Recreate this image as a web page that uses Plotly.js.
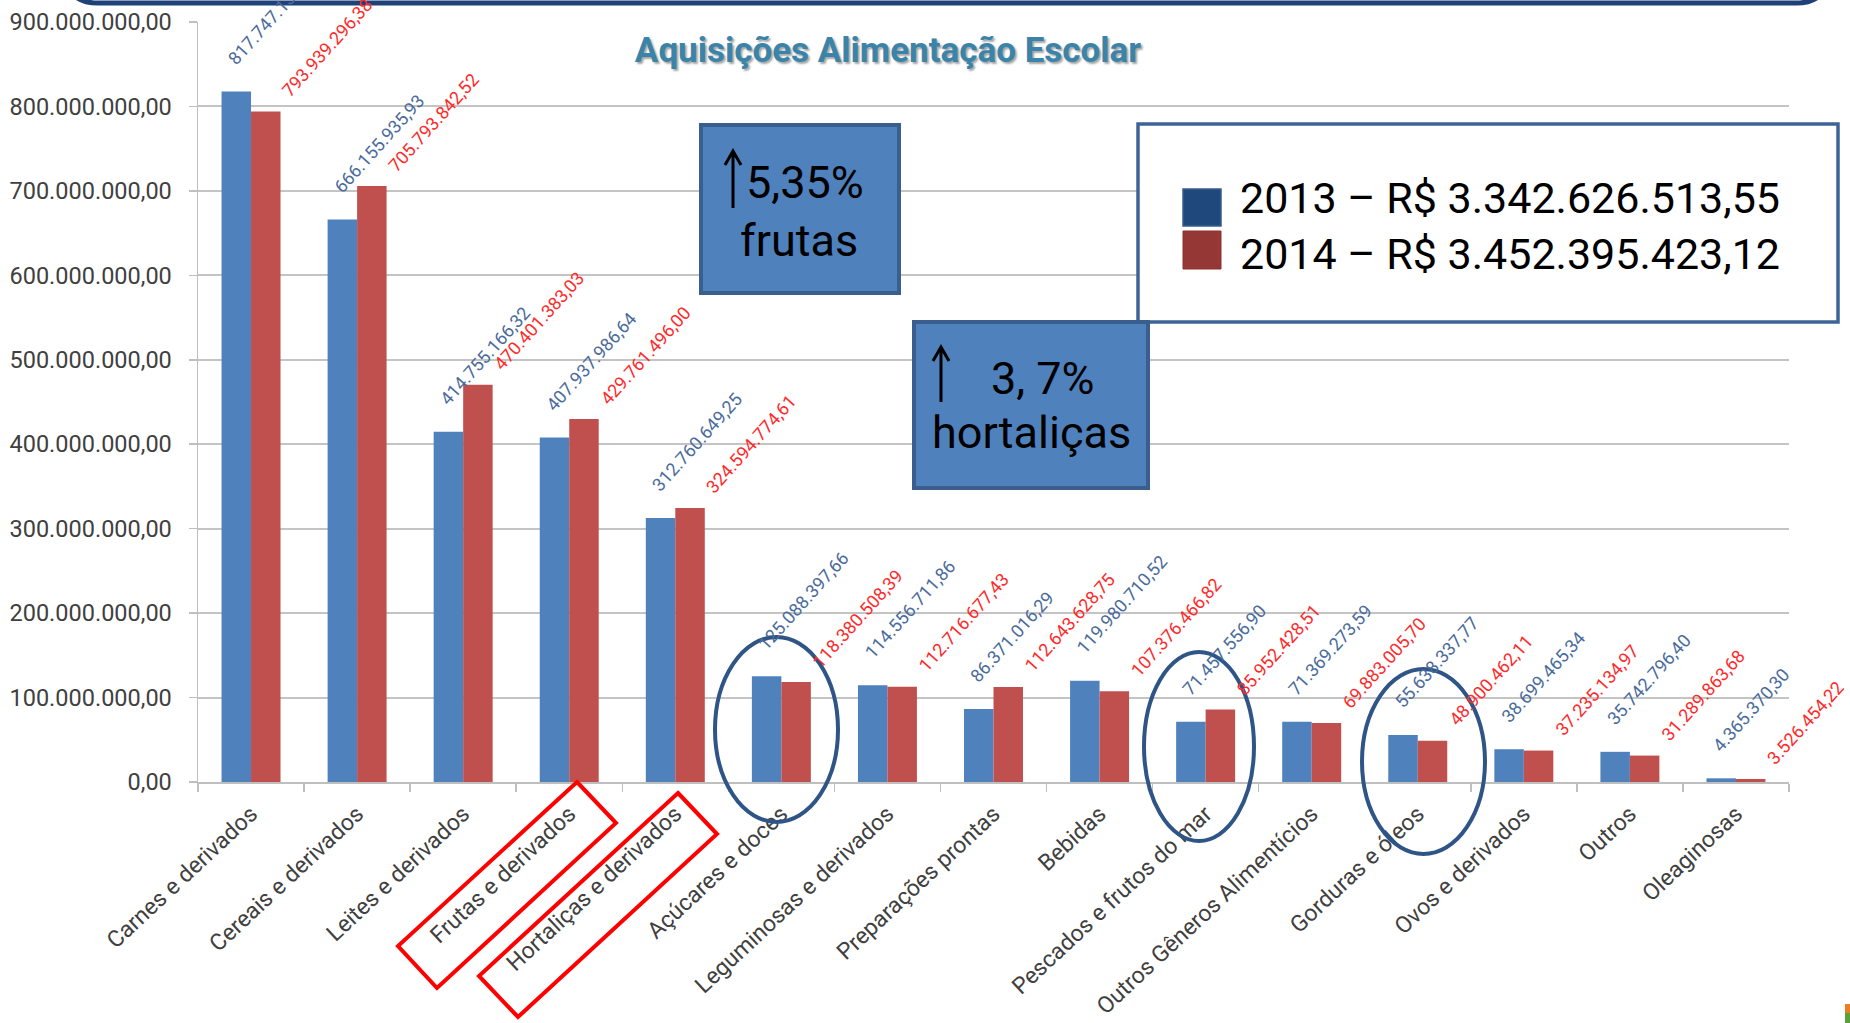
<!DOCTYPE html>
<html>
<head>
<meta charset="utf-8">
<script src="https://cdn.plot.ly/plotly-3.0.1.min.js"></script>
<style>
html,body{margin:0;padding:0;background:#ffffff;}
#chart{width:1850px;height:1023px;}
</style>
</head>
<body>
<div id="chart"></div>
<script>
// ---------------- DATA ----------------
const categories = [
  "Carnes e derivados", "Cereais e derivados", "Leites e derivados",
  "Frutas e derivados", "Hortaliças e derivados", "Açúcares e doces",
  "Leguminosas e derivados", "Preparações prontas", "Bebidas",
  "Pescados e frutos do mar", "Outros Gêneros Alimentícios",
  "Gorduras e óleos", "Ovos e derivados", "Outros", "Oleaginosas"
];
const values2013 = [
  817747138.78, 666155935.93, 414755166.32, 407937986.64, 312760649.25,
  125088397.66, 114556711.86, 86371016.29, 119980710.52, 71457556.90,
  71369273.59, 55638337.77, 38699465.34, 35742796.40, 4365370.30
];
const values2014 = [
  793939296.38, 705793842.52, 470401383.03, 429761496.00, 324594774.61,
  118380508.39, 112716677.43, 112643628.75, 107376466.82, 85952428.51,
  69883005.70, 48900462.11, 37235134.97, 31289863.68, 3526454.22
];
const seriesNames = ["2013", "2014"];
const legendTexts = ["2013 – R$ 3.342.626.513,55", "2014 – R$ 3.452.395.423,12"];
const titleText = "Aquisições Alimentação Escolar";
const calloutFrutas = ["5,35%", "frutas"];
const calloutHortalicas = ["3, 7%", "hortaliças"];

// ---------------- HELPERS ----------------
function fmtBR(v) {
  const parts = v.toFixed(2).split(".");
  const intPart = parts[0].replace(/\B(?=(\d{3})+(?!\d))/g, ".");
  return intPart + "," + parts[1];
}
// plot area in page pixels (used only to place decorations)
const PL = 198, PR = 1789, PT = 22, PB = 782;
const px = x => (x - PL) / (PR - PL);
const py = y => (PB - y) / (PB - PT);

const FONT = "Roboto, 'Liberation Sans', 'DejaVu Sans', sans-serif";
const BLUE = "#4f81bd", RED = "#c0504d";

// ---------------- TRACES ----------------
const traces = [
  {type: "bar", name: seriesNames[0], x: categories, y: values2013,
   marker: {color: BLUE}, showlegend: false, hoverinfo: "skip"},
  {type: "bar", name: seriesNames[1], x: categories, y: values2014,
   marker: {color: RED}, showlegend: false, hoverinfo: "skip"}
];

// ---------------- ANNOTATIONS ----------------
const annotations = [];
categories.forEach((c, i) => {
  annotations.push({
    x: c, y: values2013[i], xref: "x", yref: "y", showarrow: false,
    text: fmtBR(values2013[i]), textangle: -48,
    xanchor: "left", yanchor: "bottom", xshift: -30, yshift: 20,
    font: {family: FONT, size: 18, color: "#4a6b9b"}
  });
  annotations.push({
    x: c, y: values2014[i], xref: "x", yref: "y", showarrow: false,
    text: fmtBR(values2014[i]), textangle: -48,
    xanchor: "left", yanchor: "bottom", xshift: 24, yshift: 8,
    font: {family: FONT, size: 18, color: "#ff2a2a"}
  });
});

function paperText(text, x, y, size, extra) {
  return Object.assign({
    text: text, x: px(x), y: py(y), xref: "paper", yref: "paper",
    showarrow: false, xanchor: "center", yanchor: "middle",
    font: {family: FONT, size: size, color: "#000000"}
  }, extra || {});
}
// legend texts
annotations.push(paperText(legendTexts[0], 1238, 198, 43, {xanchor: "left"}));
annotations.push(paperText(legendTexts[1], 1238, 254, 43, {xanchor: "left"}));
// callout texts
annotations.push(paperText(calloutFrutas[0], 805, 182, 45));
annotations.push(paperText(calloutFrutas[1], 799, 240, 45));
annotations.push(paperText(calloutHortalicas[0], 1043, 378, 45));
annotations.push(paperText(calloutHortalicas[1], 1031, 433, 45));

// ---------------- SHAPES ----------------
function rectPx(x0, y0, x1, y1, fill, line, lw) {
  return {type: "rect", xref: "paper", yref: "paper", layer: "above",
    x0: px(x0), x1: px(x1), y0: py(y1), y1: py(y0),
    fillcolor: fill, line: {color: line, width: lw}};
}
function pathPx(pts, close, color, lw) {
  let d = "M " + pts.map(p => px(p[0]).toFixed(5) + "," + py(p[1]).toFixed(5)).join(" L ");
  if (close) d += " Z";
  return {type: "path", xref: "paper", yref: "paper", layer: "above", path: d,
    line: {color: color, width: lw}, fillcolor: "rgba(0,0,0,0)"};
}
function upArrowPx(x, yTop, yBot) {
  const p = (a, b) => px(a).toFixed(5) + "," + py(b).toFixed(5);
  const d = "M " + p(x, yBot) + " L " + p(x, yTop) +
            " M " + p(x - 8, yTop + 14) + " L " + p(x, yTop) + " L " + p(x + 8, yTop + 14);
  return {type: "path", xref: "paper", yref: "paper", layer: "above", path: d,
    line: {color: "#000000", width: 3}, fillcolor: "rgba(0,0,0,0)"};
}
function ellipsePx(x0, y0, x1, y1) {
  return {type: "circle", xref: "paper", yref: "paper", layer: "above",
    x0: px(x0), x1: px(x1), y0: py(y1), y1: py(y0),
    line: {color: "#2f5587", width: 4}, fillcolor: "rgba(0,0,0,0)"};
}
const topPath = "M " + px(68) + "," + py(-40) + " L " + px(68) + "," + py(-24) +
  " Q " + px(68) + "," + py(3) + " " + px(98) + "," + py(3) +
  " L " + px(1796) + "," + py(3) +
  " Q " + px(1826) + "," + py(3) + " " + px(1826) + "," + py(-24) +
  " L " + px(1826) + "," + py(-40);

const shapes = [
  {type: "path", xref: "paper", yref: "paper", layer: "above", path: topPath,
   line: {color: "#1f4178", width: 5}, fillcolor: "rgba(0,0,0,0)"},
  // legend box
  rectPx(1138, 124, 1838, 322, "#ffffff", "#3e6497", 3.5),
  rectPx(1183, 189, 1221, 226, "#1f497d", "#385d8a", 1.5),
  rectPx(1183, 231, 1221, 269, "#953735", "#8c3331", 1),
  // callout boxes
  rectPx(701, 125, 899, 293, BLUE, "#3a5f8e", 4),
  rectPx(914, 322, 1148, 488, BLUE, "#3a5f8e", 4),
  upArrowPx(733, 151, 208),
  upArrowPx(941, 347, 402),
  // red highlight frames
  pathPx([[577, 782], [616, 823], [437, 988], [398, 946]], true, "#ff0000", 4),
  pathPx([[678, 793], [717, 834], [518, 1017], [479, 976]], true, "#ff0000", 4),
  // ellipses
  ellipsePx(715, 637, 838, 822),
  ellipsePx(1144, 652, 1254, 841),
  ellipsePx(1362, 669, 1485, 854),
  // tiny corner mark
  rectPx(1845, 1004, 1850, 1013, "#f07c22", "rgba(0,0,0,0)", 0),
  rectPx(1845, 1013, 1850, 1023, "#5aa03c", "rgba(0,0,0,0)", 0)
];

// ---------------- LAYOUT ----------------
const layout = {
  width: 1850, height: 1023,
  margin: {l: PL, r: 1850 - PR, t: PT, b: 1023 - PB, pad: 0},
  paper_bgcolor: "#ffffff", plot_bgcolor: "#ffffff",
  separators: ",.",
  barmode: "group", bargap: 0.444, bargroupgap: 0,
  title: {
    text: titleText, xref: "container", yref: "container",
    x: 888 / 1850, y: 1 - 50 / 1023, xanchor: "center", yanchor: "middle",
    font: {family: FONT, size: 35, weight: 700, color: "#3a84aa",
           shadow: "2px 2px 2px rgba(0,0,0,0.35)"}
  },
  xaxis: {
    type: "category", range: [-0.5, categories.length - 0.5], autorange: false,
    tickangle: -43, tickson: "boundaries",
    ticks: "outside", ticklen: 8, tickcolor: "#bfbfbf", tickwidth: 1.5,
    showline: true, linecolor: "#bfbfbf", linewidth: 1.5,
    showgrid: false, zeroline: false, ticklabelstandoff: 8,
    tickfont: {family: FONT, size: 23, color: "#404040"},
    automargin: false
  },
  yaxis: {
    range: [0, 900000000], autorange: false, dtick: 100000000, tickformat: ",.2f",
    ticks: "outside", ticklen: 8, tickcolor: "#bfbfbf", tickwidth: 1.5,
    showline: true, linecolor: "#bfbfbf", linewidth: 1.5,
    showgrid: true, gridcolor: "#c4c4c4", gridwidth: 2,
    zeroline: false, ticklabelstandoff: 12,
    tickfont: {family: FONT, size: 23.5, color: "#404040"},
    automargin: false
  },
  showlegend: false,
  annotations: annotations,
  shapes: shapes
};

Plotly.newPlot("chart", traces, layout, {displayModeBar: false, staticPlot: true});
</script>
</body>
</html>
